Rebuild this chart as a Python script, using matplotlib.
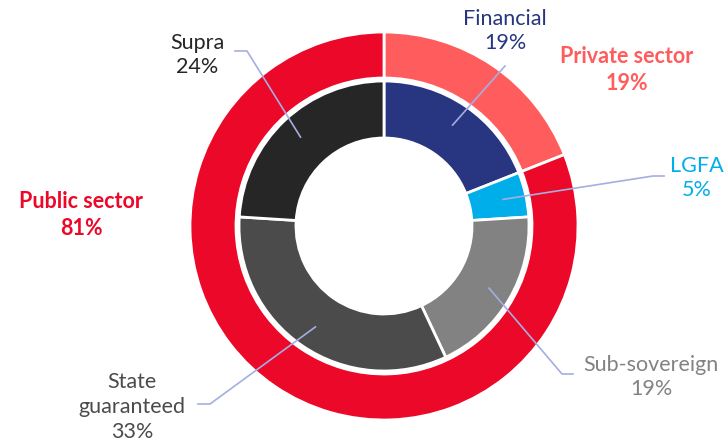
import numpy as np
import matplotlib
matplotlib.use("Agg")
import matplotlib.pyplot as plt

# outer ring: sector split
outer_labels = ["Private sector", "Public sector"]
outer_values = [19, 81]
outer_colors = ["#FF5D5D", "#EC0828"]

# inner ring: issuer type
inner_labels = ["Financial", "LGFA", "Sub-sovereign", "State\nguaranteed", "Supra"]
inner_values = [19, 5, 19, 33, 24]
inner_colors = ["#283580", "#00AEEA", "#828282", "#4B4B4B", "#262626"]

plt.rcParams['font.family'] = ['Lato', 'DejaVu Sans']

W, H = 726, 445
fig = plt.figure(figsize=(W / 100, H / 100), dpi=100)
ax = fig.add_axes([0, 0, 1, 1])

cx, cy = 384, H - 226
r_out, r_in, r_hole = 194, 145, 88

ax.pie(outer_values, radius=r_out, center=(cx, cy), startangle=90, counterclock=False,
       colors=outer_colors, wedgeprops=dict(width=46, edgecolor="white", linewidth=2))
ax.pie(inner_values, radius=r_in, center=(cx, cy), startangle=90, counterclock=False,
       colors=inner_colors, wedgeprops=dict(width=r_in - r_hole, edgecolor="white", linewidth=2))

ax.set_xlim(0, W)
ax.set_ylim(0, H)
ax.set_aspect("equal")
ax.axis("off")

fs = 15.5
line_col = "#A4AEE2"

# label text position, elbow, end of leader (pixel coords from top)
inner_layout = [
    ((505, 31), (505, 66), (505, 66)),
    ((697, 178), (653, 176), (664, 176)),
    ((651, 377), (562, 374), (573, 374)),
    ((132, 407), (210, 404), (198, 404)),
    ((197, 55), (247, 51), (235, 51)),
]

cum = np.cumsum([0] + inner_values[:-1])
total = sum(inner_values)
for lab, val, col, start, (tpos, elbow, end) in zip(inner_labels, inner_values, inner_colors, cum, inner_layout):
    mid = np.deg2rad((start + val / 2) / total * 360)
    r0 = 122
    x0 = cx + r0 * np.sin(mid)
    y0 = cy + r0 * np.cos(mid)
    ax.plot([x0, elbow[0], end[0]], [y0, H - elbow[1], H - end[1]], color=line_col, lw=1.2, zorder=3)
    ax.text(tpos[0], H - tpos[1], f"{lab}\n{val}%", color=col, fontsize=fs,
            ha="center", va="center", linespacing=1.3)

outer_pos = [(627, 70), (81, 215)]
for lab, val, col, pos in zip(outer_labels, outer_values, outer_colors, outer_pos):
    ax.text(pos[0], H - pos[1], f"{lab}\n{val}%", color=col, fontsize=fs, fontweight="bold",
            ha="center", va="center", linespacing=1.3)

fig.savefig("out.png", dpi=100)
